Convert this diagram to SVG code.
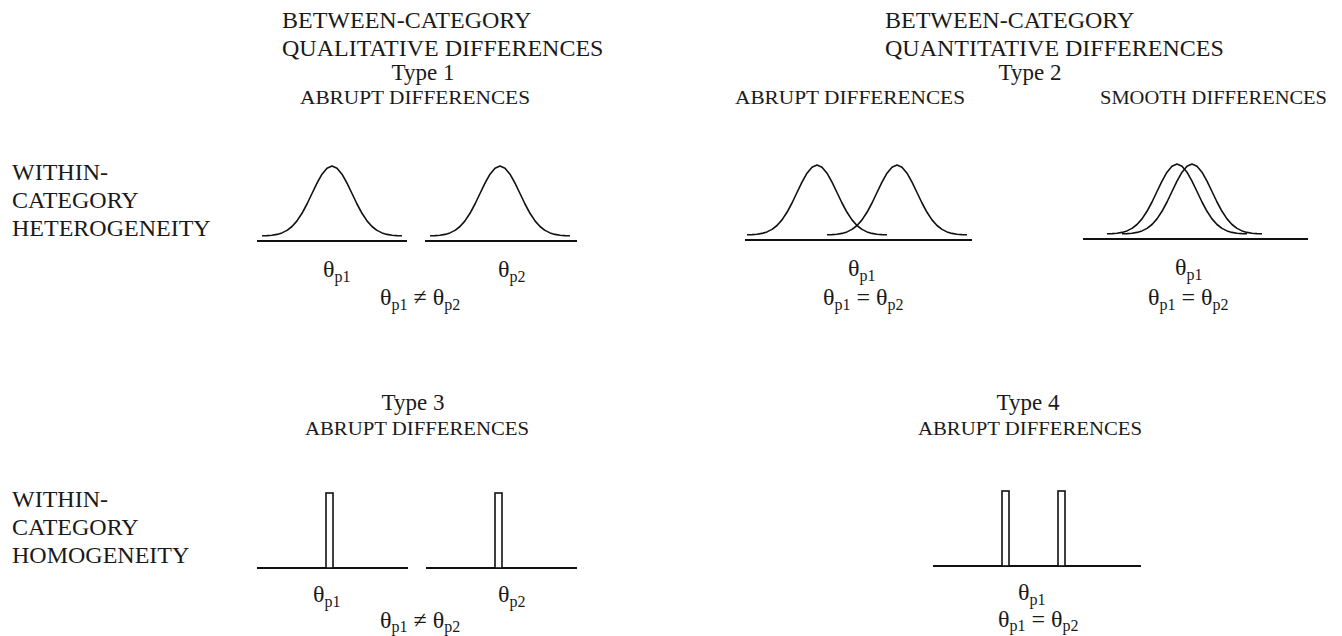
<svg xmlns="http://www.w3.org/2000/svg" xmlns:xlink="http://www.w3.org/1999/xlink" width="1342" height="636" viewBox="0 0 1342 636">
<style>
text{font-family:"Liberation Serif","Times New Roman",serif;fill:#1a1a1a}
.h{font-size:24px}
.t{font-size:23px;text-anchor:middle}
.s{font-size:18px}
.r{font-size:24px}
.th{font-size:24px}
.sub{font-size:16px}
.axis{stroke:#111;stroke-width:2;fill:none}
.curve{stroke:#111;stroke-width:1.6;fill:none;stroke-linejoin:round}
.bar{stroke:#111;stroke-width:1.6;fill:#fff}
</style>
<defs>
<path id="g" d="M-70,-0.2 L-65,-0.4 L-60,-0.8 L-55,-1.6 L-50,-3.1 L-45,-5.6 L-40,-9.5 L-35,-15.1 L-30,-22.7 L-25,-32 L-20,-42.5 L-15,-52.8 L-10,-61.8 L-5,-67.8 L0,-70 L5,-67.8 L10,-61.8 L15,-52.8 L20,-42.5 L25,-32 L30,-22.7 L35,-15.1 L40,-9.5 L45,-5.6 L50,-3.1 L55,-1.6 L60,-0.8 L65,-0.4 L70,-0.2"/>
</defs>

<g id="header-left">
<text class="h" x="282" y="28">BETWEEN-CATEGORY</text>
<text class="h" x="282" y="56">QUALITATIVE DIFFERENCES</text>
<text class="t" x="423" y="80">Type 1</text>
<text class="s" x="300" y="104" textLength="230" lengthAdjust="spacingAndGlyphs">ABRUPT DIFFERENCES</text>
</g>

<g id="header-right">
<text class="h" x="885" y="28">BETWEEN-CATEGORY</text>
<text class="h" x="885" y="56">QUANTITATIVE DIFFERENCES</text>
<text class="t" x="1030" y="80">Type 2</text>
<text class="s" x="735" y="104" textLength="230" lengthAdjust="spacingAndGlyphs">ABRUPT DIFFERENCES</text>
<text class="s" x="1100" y="104" textLength="227" lengthAdjust="spacingAndGlyphs">SMOOTH DIFFERENCES</text>
</g>

<g id="row-heterogeneity">
<text class="r" x="12" y="180">WITHIN-</text>
<text class="r" x="12" y="208">CATEGORY</text>
<text class="r" x="12" y="236">HETEROGENEITY</text>
</g>

<g id="row-homogeneity">
<text class="r" x="12" y="507">WITHIN-</text>
<text class="r" x="12" y="535">CATEGORY</text>
<text class="r" x="12" y="563">HOMOGENEITY</text>
</g>

<g id="type1">
<line class="axis" x1="257" y1="241" x2="407" y2="241"/>
<line class="axis" x1="425" y1="241" x2="577" y2="241"/>
<use xlink:href="#g" href="#g" class="curve" transform="translate(332,236)"/>
<use xlink:href="#g" href="#g" class="curve" transform="translate(500,236)"/>
<text class="th" x="323" y="277">θ<tspan class="sub" dy="5">p1</tspan></text>
<text class="th" x="498" y="277">θ<tspan class="sub" dy="5">p2</tspan></text>
<text class="th" x="380" y="305">θ<tspan class="sub" dy="5">p1</tspan><tspan dy="-5"> ≠ θ</tspan><tspan class="sub" dy="5">p2</tspan></text>
</g>

<g id="type2-abrupt">
<line class="axis" x1="745" y1="240" x2="972" y2="240"/>
<use xlink:href="#g" href="#g" class="curve" transform="translate(817,235)"/>
<use xlink:href="#g" href="#g" class="curve" transform="translate(897,235)"/>
<text class="th" x="848" y="276">θ<tspan class="sub" dy="5">p1</tspan></text>
<text class="th" x="823" y="305">θ<tspan class="sub" dy="5">p1</tspan><tspan dy="-5"> = θ</tspan><tspan class="sub" dy="5">p2</tspan></text>
</g>

<g id="type2-smooth">
<line class="axis" x1="1083" y1="239" x2="1308" y2="239"/>
<use xlink:href="#g" href="#g" class="curve" transform="translate(1177,234)"/>
<use xlink:href="#g" href="#g" class="curve" transform="translate(1192,234)"/>
<text class="th" x="1175" y="275">θ<tspan class="sub" dy="5">p1</tspan></text>
<text class="th" x="1148" y="305">θ<tspan class="sub" dy="5">p1</tspan><tspan dy="-5"> = θ</tspan><tspan class="sub" dy="5">p2</tspan></text>
</g>

<g id="type3">
<text class="t" x="413" y="410">Type 3</text>
<text class="s" x="305" y="435" textLength="224" lengthAdjust="spacingAndGlyphs">ABRUPT DIFFERENCES</text>
<line class="axis" x1="257" y1="568" x2="408" y2="568"/>
<line class="axis" x1="426" y1="568" x2="577" y2="568"/>
<rect class="bar" x="326" y="493" width="7" height="75"/>
<rect class="bar" x="495" y="493" width="7" height="75"/>
<text class="th" x="313" y="602">θ<tspan class="sub" dy="5">p1</tspan></text>
<text class="th" x="498" y="602">θ<tspan class="sub" dy="5">p2</tspan></text>
<text class="th" x="380" y="628">θ<tspan class="sub" dy="4">p1</tspan><tspan dy="-4"> ≠ θ</tspan><tspan class="sub" dy="4">p2</tspan></text>
</g>

<g id="type4">
<text class="t" x="1028" y="410">Type 4</text>
<text class="s" x="918" y="435" textLength="224" lengthAdjust="spacingAndGlyphs">ABRUPT DIFFERENCES</text>
<line class="axis" x1="933" y1="566" x2="1141" y2="566"/>
<rect class="bar" x="1002" y="491" width="7" height="75"/>
<rect class="bar" x="1058" y="491" width="7" height="75"/>
<text class="th" x="1018" y="600">θ<tspan class="sub" dy="5">p1</tspan></text>
<text class="th" x="998" y="627">θ<tspan class="sub" dy="4">p1</tspan><tspan dy="-4"> = θ</tspan><tspan class="sub" dy="4">p2</tspan></text>
</g>
</svg>
